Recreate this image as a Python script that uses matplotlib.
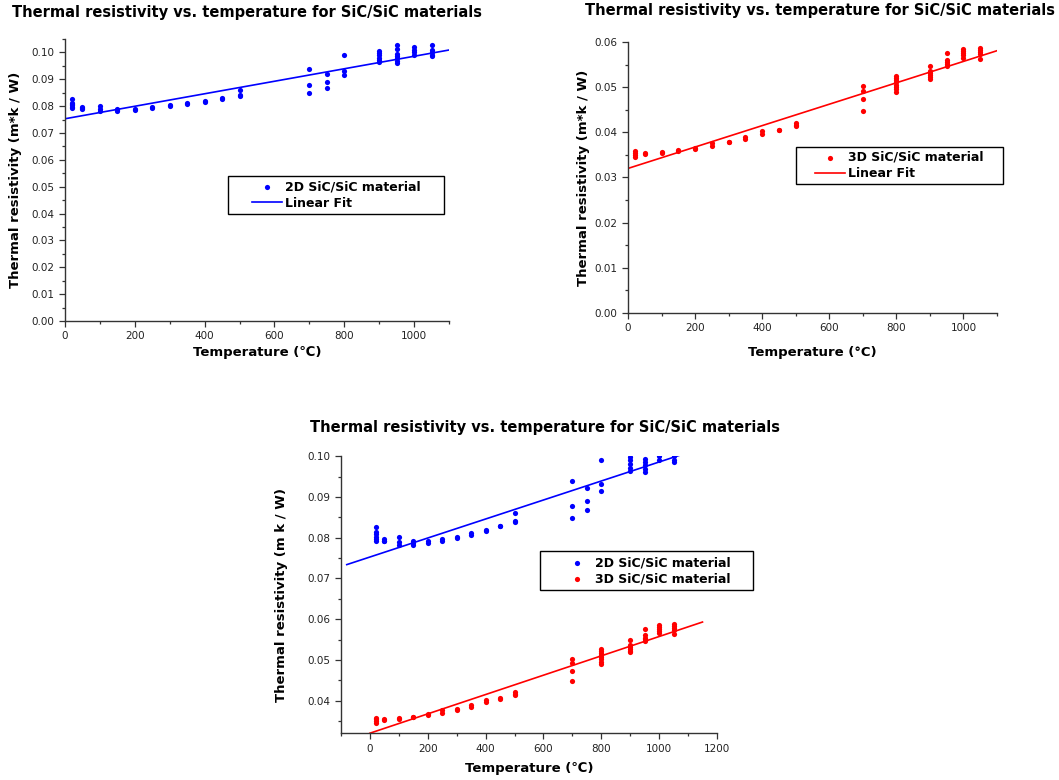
import numpy as np
import matplotlib
matplotlib.use('Agg')
import matplotlib.pyplot as plt
from matplotlib.ticker import MultipleLocator, FormatStrFormatter
from matplotlib.patches import Rectangle, Shadow

plt.rcParams['font.family'] = ['DejaVu Sans']

# temperatures (C) and measured thermal resistivity, one list per temperature
temps_2d = [20, 50, 100, 150, 200, 250, 300, 350, 400, 450, 500, 700, 750, 800, 900, 950, 1000, 1050]
res_2d = [
    [0.0826, 0.0813, 0.0808, 0.0803, 0.0797, 0.0793],
    [0.0797, 0.0793, 0.0791],
    [0.0801, 0.0789, 0.0783],
    [0.0791, 0.0786, 0.0782],
    [0.0791, 0.0787],
    [0.0798, 0.0793],
    [0.0803, 0.0800],
    [0.0811, 0.0807],
    [0.0819, 0.0816],
    [0.0830, 0.0828],
    [0.0860, 0.0842, 0.0838],
    [0.0939, 0.0877, 0.0848],
    [0.0921, 0.0890, 0.0867],
    [0.0991, 0.0932, 0.0915],
    [0.1006, 0.0998, 0.0990, 0.0981, 0.0972, 0.0965],
    [0.1028, 0.1012, 0.0994, 0.0985, 0.0979, 0.0969, 0.0962],
    [0.1019, 0.1009, 0.1000, 0.0990],
    [0.1026, 0.1009, 0.1000, 0.0991, 0.0986],
]

temps_3d = [20, 50, 100, 150, 200, 250, 300, 350, 400, 450, 500, 700, 800, 900, 950, 1000, 1050]
res_3d = [
    [0.0358, 0.0354, 0.0349, 0.0345],
    [0.0354, 0.0352],
    [0.0357, 0.0355],
    [0.0361, 0.0359],
    [0.0366, 0.0364],
    [0.0376, 0.0370],
    [0.0379, 0.0378],
    [0.0390, 0.0385],
    [0.0402, 0.0396],
    [0.0406, 0.0405],
    [0.0421, 0.0417, 0.0413],
    [0.0502, 0.0492, 0.0473, 0.0448],
    [0.0526, 0.0521, 0.0516, 0.0511, 0.0506, 0.0501, 0.0496, 0.0490],
    [0.0548, 0.0537, 0.0532, 0.0527, 0.0523, 0.0519],
    [0.0575, 0.0560, 0.0555, 0.0551, 0.0546],
    [0.0585, 0.0580, 0.0576, 0.0571, 0.0565],
    [0.0588, 0.0583, 0.0579, 0.0574, 0.0563],
]

# linear fit lines (endpoints)
fit2d_x = [0, 1100]
fit2d_y = [0.0753, 0.1009]
fit3d_x = [0, 1100]
fit3d_y = [0.0320, 0.0581]
fit2d_x_comb = [-80, 1150]
fit2d_y_comb = [0.0734, 0.1021]
fit3d_x_comb = [0, 1150]
fit3d_y_comb = [0.0320, 0.0593]

TITLE = 'Thermal resistivity vs. temperature for SiC/SiC materials'
BLUE = '#0000ff'
RED = '#ff0000'


def flat(groups, ts):
    xs, ys = [], []
    for t, g in zip(ts, groups):
        xs += [t] * len(g)
        ys += g
    return np.array(xs), np.array(ys)


x2, y2 = flat(res_2d, temps_2d)
x3, y3 = flat(res_3d, temps_3d)


def style(ax):
    for s in ['top', 'right']:
        ax.spines[s].set_visible(False)
    for s in ['left', 'bottom']:
        ax.spines[s].set_color('#333333')
        ax.spines[s].set_linewidth(1.0)
    ax.tick_params(which='major', direction='out', length=4, width=0.9, labelsize=7.5, colors='#333333',
                   labelcolor='#222222')
    ax.tick_params(which='minor', direction='out', length=2.5, width=0.9, colors='#333333')
    ax.xaxis.set_major_locator(MultipleLocator(200))
    ax.xaxis.set_minor_locator(MultipleLocator(100))
    ax.yaxis.set_major_locator(MultipleLocator(0.01))
    ax.yaxis.set_minor_locator(MultipleLocator(0.005))
    ax.yaxis.set_major_formatter(FormatStrFormatter('%.2f'))


def legend(ax, box):
    # box: (x0, y0, w, h) in axes fraction; content centred inside a framed box with a shadow
    x0, y0, w, h = box
    rect = Rectangle((x0, y0), w, h, transform=ax.transAxes, facecolor='white',
                     edgecolor='black', lw=1.0, clip_on=False, zorder=5)
    sh = Shadow(rect, 2.2, -2.2, facecolor='#9a9a9a', edgecolor='none')
    sh.set_clip_on(False)
    sh.set_zorder(4.9)
    ax.add_patch(sh)
    ax.add_patch(rect)
    lg = ax.legend(loc='center', bbox_to_anchor=(x0 + w / 2, y0 + h / 2), frameon=False,
                   prop={'weight': 'bold', 'size': 9}, handlelength=2.4, borderpad=0,
                   labelspacing=0.25, handletextpad=0.25, borderaxespad=0, markerscale=1.0)
    lg.set_zorder(6)
    return lg


fig = plt.figure(figsize=(10.59, 7.8), dpi=100)

# top-left: 2D material
ax1 = fig.add_axes([0.0614, 0.5885, 0.3626, 0.3615])
style(ax1)
ax1.scatter(x2, y2, s=14, color=BLUE, label='2D SiC/SiC material', zorder=3, linewidths=0)
ax1.plot(fit2d_x, fit2d_y, color=BLUE, lw=1.2, label='Linear Fit')
ax1.set_xlim(0, 1100)
ax1.set_ylim(0, 0.105)
ax1.set_xlabel('Temperature (\u2103)', fontsize=9.5, fontweight='bold', labelpad=3)
ax1.set_ylabel('Thermal resistivity (m*k / W)', fontsize=9.5, fontweight='bold', labelpad=7)
legend(ax1, (0.424, 0.379, 0.563, 0.135))
fig.text(0.233, 0.984, TITLE, ha='center', va='center', fontsize=10.5, fontweight='bold')

# top-right: 3D material
ax2 = fig.add_axes([0.593, 0.599, 0.3485, 0.347])
style(ax2)
ax2.scatter(x3, y3, s=14, color=RED, label='3D SiC/SiC material', zorder=3, linewidths=0)
ax2.plot(fit3d_x, fit3d_y, color=RED, lw=1.2, label='Linear Fit')
ax2.set_xlim(0, 1100)
ax2.set_ylim(0, 0.06)
ax2.set_xlabel('Temperature (\u00b0C)', fontsize=9.5, fontweight='bold', labelpad=9)
ax2.set_ylabel('Thermal resistivity (m*k / W)', fontsize=9.5, fontweight='bold', labelpad=3)
legend(ax2, (0.455, 0.476, 0.561, 0.137))
fig.text(0.774, 0.987, TITLE, ha='center', va='center', fontsize=10.5, fontweight='bold')

# bottom: both materials
ax3 = fig.add_axes([0.322, 0.060, 0.355, 0.355])
style(ax3)
ax3.scatter(x2, y2, s=14, color=BLUE, label='2D SiC/SiC material', zorder=3, linewidths=0)
ax3.scatter(x3, y3, s=14, color=RED, label='3D SiC/SiC material', zorder=3, linewidths=0)
ax3.plot(fit2d_x_comb, fit2d_y_comb, color=BLUE, lw=1.2)
ax3.plot(fit3d_x_comb, fit3d_y_comb, color=RED, lw=1.2)
ax3.set_xlim(-100, 1200)
ax3.set_ylim(0.032, 0.10)
ax3.set_xlabel('Temperature (\u2103)', fontsize=9.5, fontweight='bold', labelpad=6)
ax3.set_ylabel('Thermal resistivity (m k / W)', fontsize=9.5, fontweight='bold', labelpad=14)
legend(ax3, (0.529, 0.516, 0.567, 0.141))
fig.text(0.515, 0.452, TITLE, ha='center', va='center', fontsize=10.5, fontweight='bold')

fig.savefig('out.png', dpi=100)
